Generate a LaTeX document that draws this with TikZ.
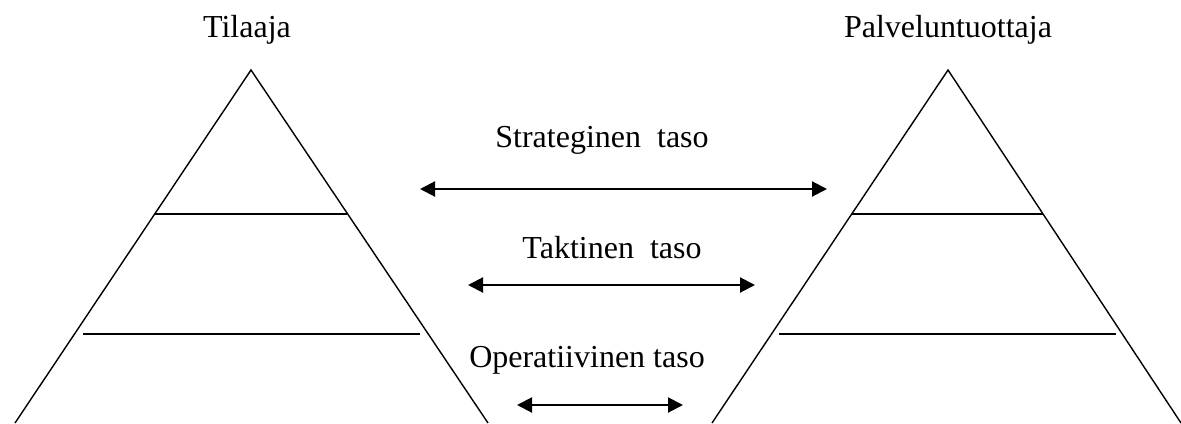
\documentclass[tikz,border=0pt]{standalone}
\usepackage{fontspec}
\setmainfont{Liberation Serif}
\usetikzlibrary{arrows.meta}

\newcommand\widewords{\spaceskip 8pt\relax}

\begin{document}
\begin{tikzpicture}[
    x=0.5pt, y=-0.5pt,
    % --- STYLES ---
    label text/.style={anchor=base, inner sep=0pt, font=\fontsize{16}{19}\selectfont},
    wide label/.style={label text, font=\fontsize{16}{19}\selectfont\widewords},
    pyramid/.style={draw, line width=0.7pt, line join=miter},
    level line/.style={draw, line width=1pt},
    arrow/.style={{Triangle[length=7.5pt, width=7.5pt]}-{Triangle[length=7.5pt, width=7.5pt]}, line width=1pt}
]
    \useasboundingbox (0,0) rectangle (1181,423);

    % ==========================================
    % PYRAMIDS
    % ==========================================
    \coordinate (c-apex) at (251,70);
    \coordinate (c-bl) at (15,423);
    \coordinate (c-br) at (488,423);
    \draw[pyramid] (c-bl) -- (c-apex) -- (c-br);
    \draw[level line] (155,214) -- (347,214);
    \draw[level line] (83,334) -- (420,334);

    \coordinate (p-apex) at (948,70);
    \coordinate (p-bl) at (712,423);
    \coordinate (p-br) at (1181,423);
    \draw[pyramid] (p-bl) -- (p-apex) -- (p-br);
    \draw[level line] (852,214) -- (1043,214);
    \draw[level line] (779,334) -- (1116,334);

    % Titles
    \node[label text] (client) at (247,37) {Tilaaja};
    \node[label text] (provider) at (948,37) {Palveluntuottaja};

    % ==========================================
    % LEVEL ARROWS
    % ==========================================
    \node[wide label] (strategic) at (602,147) {Strateginen taso};
    \coordinate (s-left) at (420,189);
    \coordinate (s-right) at (827,189);
    \draw[arrow] (s-left) -- (s-right);

    \node[wide label] (tactical) at (612,258) {Taktinen taso};
    \coordinate (t-left) at (468,285);
    \coordinate (t-right) at (755,285);
    \draw[arrow] (t-left) -- (t-right);

    \node[label text] (operative) at (587,367) {Operatiivinen taso};
    \coordinate (o-left) at (517,405);
    \coordinate (o-right) at (683,405);
    \draw[arrow] (o-left) -- (o-right);

\end{tikzpicture}
\end{document}
